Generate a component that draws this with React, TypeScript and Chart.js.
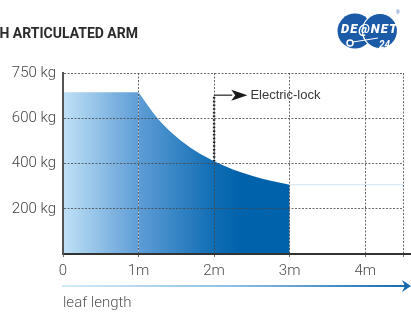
import React, { useEffect, useRef } from "react";
import { Chart, registerables } from "chart.js";

Chart.register(...registerables);

// ---- data ----
const X_TICKS = [0, 1, 2, 3, 4, 4.5];
const X_LABELS = ["0", "1m", "2m", "3m", "4m", ""];
const Y_TICKS = [0, 200, 400, 600, 800];
const Y_LABELS = ["", "200 kg", "400 kg", "600 kg", "750 kg"];

const PLATEAU_X = [0, 1];
const PLATEAU_Y = [715, 715];
const CURVE_X = [1, 1.25, 1.5, 1.75, 2, 2.25, 2.5, 2.75, 3];
const CURVE_Y = [715, 600, 518, 456, 410, 374, 346, 324, 306];
const TAIL_X = [3, 4.5];
const TAIL_Y = [306, 306];

const LOCK_X = 2;
const LOCK_TOP = 702;
const LOCK_SHAFT_END = 2.24;
const LOCK_HEAD_END = 2.44;
const LOCK_LABEL_X = 2.48;
const LOCK_LABEL = "Electric-lock";

const TITLE = "WITH ARTICULATED ARM";
const X_TITLE = "leaf length";

const pts = (xs: number[], ys: number[]) => xs.map((x, i) => ({ x, y: ys[i] }));

const fillGradient = (ctx: any) => {
  const chart = ctx.chart;
  const ca = chart.chartArea;
  if (!ca) return "#3f86c8";
  const g = chart.ctx.createLinearGradient(ca.left, 0, ca.right, 0);
  g.addColorStop(0, "#c0e1f6");
  g.addColorStop(0.222, "#5e9dd6");
  g.addColorStop(0.444, "#106db4");
  g.addColorStop(0.52, "#0062ab");
  g.addColorStop(1, "#0062ab");
  return g;
};

const decorPlugin = {
  id: "decor",
  afterDatasetsDraw(chart: any) {
    const { ctx, scales } = chart;
    const xs = scales.x;
    const ys = scales.y;
    const y = ys.getPixelForValue(LOCK_TOP);
    const x1 = xs.getPixelForValue(LOCK_SHAFT_END);
    const x2 = xs.getPixelForValue(LOCK_HEAD_END);
    ctx.save();
    ctx.fillStyle = "#1a1a1a";
    ctx.beginPath();
    ctx.moveTo(x1 - 1, y - 5.5);
    ctx.lineTo(x2, y);
    ctx.lineTo(x1 - 1, y + 5.5);
    ctx.lineTo(x1 + 3, y);
    ctx.closePath();
    ctx.fill();
    ctx.font = "13px 'Liberation Sans', Arial, sans-serif";
    ctx.fillStyle = "#3a3a3a";
    ctx.textBaseline = "middle";
    ctx.textAlign = "left";
    ctx.fillText(LOCK_LABEL, xs.getPixelForValue(LOCK_LABEL_X), y + 0.5);
    ctx.restore();
  },
  afterDraw(chart: any) {
    const { ctx, chartArea, scales, width } = chart;
    ctx.save();
    // axis extension
    ctx.strokeStyle = "#333";
    ctx.lineWidth = 2;
    ctx.beginPath();
    ctx.moveTo(chartArea.right - 1, chartArea.bottom);
    ctx.lineTo(width, chartArea.bottom);
    ctx.stroke();
    // leaf length arrow
    const ay = scales.x.top + 32;
    const ax0 = chartArea.left - 1;
    const ax1 = width - 6;
    const g = ctx.createLinearGradient(ax0, 0, width, 0);
    g.addColorStop(0, "#d3ebf8");
    g.addColorStop(0.5, "#8bbfe3");
    g.addColorStop(1, "#1567b0");
    ctx.strokeStyle = g;
    ctx.lineWidth = 2;
    ctx.beginPath();
    ctx.moveTo(ax0, ay);
    ctx.lineTo(ax1, ay);
    ctx.stroke();
    ctx.fillStyle = "#1567b0";
    ctx.beginPath();
    ctx.moveTo(ax1 - 3, ay - 6);
    ctx.lineTo(width, ay);
    ctx.lineTo(ax1 - 3, ay + 6);
    ctx.lineTo(ax1, ay);
    ctx.closePath();
    ctx.fill();
    ctx.restore();
  },
};

const tickFont = { family: "Roboto, 'Liberation Sans', sans-serif", size: 15, weight: "300" as any };

export default function App() {
  const ref = useRef<HTMLCanvasElement | null>(null);

  useEffect(() => {
    document.body.style.margin = "0";
    const canvas = ref.current;
    if (!canvas) return;
    const chart = new Chart(canvas, {
      type: "line",
      data: {
        datasets: [
          {
            data: pts(PLATEAU_X, PLATEAU_Y),
            fill: "origin",
            backgroundColor: fillGradient,
            borderWidth: 0,
            pointRadius: 0,
          },
          {
            data: pts(CURVE_X, CURVE_Y),
            fill: "origin",
            backgroundColor: fillGradient,
            borderWidth: 0,
            pointRadius: 0,
            cubicInterpolationMode: "monotone",
          },
          {
            data: pts(TAIL_X, TAIL_Y),
            fill: false,
            borderColor: "rgba(195,220,243,0.8)",
            borderWidth: 1.2,
            pointRadius: 0,
          },
          {
            data: pts([LOCK_X, LOCK_X], [0, LOCK_TOP]),
            fill: false,
            borderColor: "rgba(40,40,40,0.7)",
            borderWidth: 0.8,
            pointRadius: 0,
          },
          {
            data: pts([LOCK_X, LOCK_X], [0, LOCK_TOP]),
            fill: false,
            borderColor: "#111",
            borderWidth: 2.4,
            borderDash: [1.5, 2.2],
            pointRadius: 0,
          },
          {
            data: pts([LOCK_X, LOCK_SHAFT_END], [LOCK_TOP, LOCK_TOP]),
            fill: false,
            borderColor: "#222",
            borderWidth: 1.2,
            pointRadius: 0,
          },
        ],
      },
      options: {
        responsive: false,
        animation: false,
        devicePixelRatio: 1,
        layout: { padding: { top: 73, right: 8, left: 0, bottom: 0 } },
        plugins: { legend: { display: false }, tooltip: { enabled: false }, title: { display: false } },
        scales: {
          x: {
            type: "linear",
            min: 0,
            max: 4.5,
            afterBuildTicks: (s: any) => {
              s.ticks = X_TICKS.map((v) => ({ value: v }));
            },
            afterFit: (s: any) => {
              s.height = 59;
            },
            ticks: {
              callback: (_v: any, i: number) => X_LABELS[i] ?? "",
              font: tickFont,
              color: "#4a4a4a",
              padding: 5,
              maxRotation: 0,
              autoSkip: false,
            },
            grid: {
              color: "rgba(70,70,70,0.8)",
              lineWidth: 1,
              tickLength: 3,
              z: 1,
            },
            border: { color: "#333", width: 2, dash: [2, 1.5], z: 2 },
            title: {
              display: true,
              text: X_TITLE,
              align: "start",
              color: "#555",
              font: tickFont,
              padding: { top: 0, bottom: 1 },
            },
          },
          y: {
            type: "linear",
            min: 0,
            max: 800,
            afterBuildTicks: (s: any) => {
              s.ticks = Y_TICKS.map((v) => ({ value: v }));
            },
            afterFit: (s: any) => {
              s.width = 63;
            },
            ticks: {
              callback: (_v: any, i: number) => Y_LABELS[i] ?? "",
              font: tickFont,
              color: "#444",
              padding: 7,
              autoSkip: false,
            },
            grid: {
              color: "rgba(70,70,70,0.8)",
              lineWidth: 1,
              tickLength: 0,
              z: 1,
            },
            border: { color: "#555", width: 2, dash: [2, 1.5], z: 2 },
          },
        },
      },
      plugins: [decorPlugin],
    } as any);
    return () => chart.destroy();
  }, []);

  return (
    <div style={{ position: "relative", width: 411, height: 313, overflow: "hidden", background: "#fff" }}>
      <canvas ref={ref} width={411} height={313} style={{ position: "absolute", left: 0, top: 0 }} />
      <div
        style={{
          position: "absolute",
          right: 411 - 138,
          top: 23,
          whiteSpace: "nowrap",
          fontFamily: "Roboto, 'DejaVu Sans', sans-serif",
          fontWeight: 700,
          fontSize: 14,
          color: "#2b2b2b",
          lineHeight: "20px",
        }}
      >
        {TITLE}
      </div>
      <svg width={68} height={48} style={{ position: "absolute", left: 334, top: 6 }}>
        <circle cx={21} cy={25} r={17.5} fill="#1b5aa6" />
        <circle cx={46} cy={25} r={17.5} fill="#1b5aa6" stroke="#fff" strokeWidth={1.2} />
        <text
          x={7}
          y={27}
          fill="#fff"
          fontFamily="Roboto, sans-serif"
          fontWeight={900}
          fontStyle="italic"
          fontSize={13}
          textLength={56}
        >
          DE@NET
        </text>
        <text x={45} y={42} fill="#fff" fontFamily="Roboto, sans-serif" fontWeight={700} fontStyle="italic" fontSize={10}>
          24
        </text>
        <circle cx={16} cy={37} r={3} fill="none" stroke="#fff" strokeWidth={1.5} />
        <line x1={19} y1={36} x2={44} y2={32} stroke="#fff" strokeWidth={1} />
        <text x={62} y={8} fill="#1b5aa6" fontSize={5} fontFamily="sans-serif">
          ®
        </text>
      </svg>
    </div>
  );
}
